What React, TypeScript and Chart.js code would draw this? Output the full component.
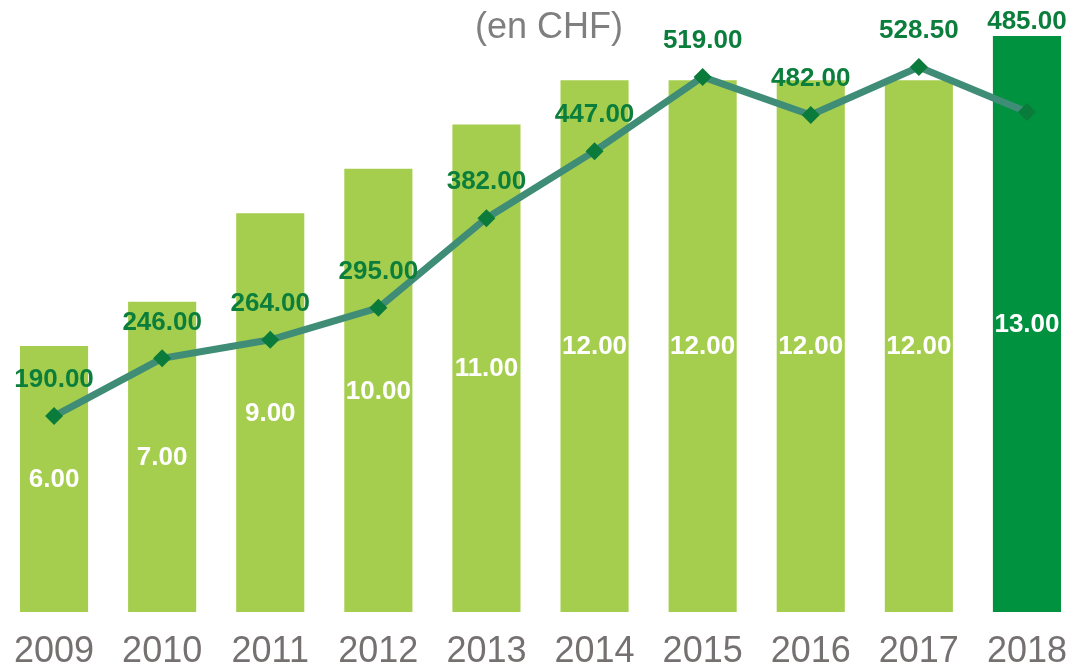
import React, { useEffect, useRef } from "react";
import { Chart, registerables } from "chart.js";

Chart.register(...registerables);

const years = ["2009", "2010", "2011", "2012", "2013", "2014", "2015", "2016", "2017", "2018"];
const barValues = [6, 7, 9, 10, 11, 12, 12, 12, 12, 13];
const lineValues = [190, 246, 264, 295, 382, 447, 519, 482, 528.5, 485];
const subtitle = "(en CHF)";

const BAR_LIGHT = "#a6ce4e";
const BAR_DARK = "#00923f";
const LINE_COLOR = "#3f8d76";
const MARKER_COLOR = "#0a7b3a";
const LABEL_GREEN = "#0b7e3c";

const labelPlugin = {
  id: "valueLabels",
  afterDatasetsDraw(chart: any) {
    const ctx = chart.ctx;
    ctx.save();
    ctx.font = "bold 26px 'Liberation Sans', Arial, sans-serif";
    ctx.textAlign = "center";
    ctx.textBaseline = "middle";
    const barMeta = chart.getDatasetMeta(1);
    const lineMeta = chart.getDatasetMeta(0);
    barMeta.data.forEach((el: any, i: number) => {
      const p = el.getProps(["x", "y", "base"], true);
      ctx.fillStyle = "#ffffff";
      ctx.fillText(barValues[i].toFixed(2), p.x, (p.y + p.base) / 2 + 1);
    });
    lineMeta.data.forEach((el: any, i: number) => {
      const p = el.getProps(["x", "y"], true);
      let y = p.y - 36;
      if (i === lineMeta.data.length - 1) {
        const b = barMeta.data[i].getProps(["y"], true);
        y = b.y - 14;
      }
      ctx.fillStyle = LABEL_GREEN;
      ctx.fillText(lineValues[i].toFixed(2), p.x, y);
    });
    ctx.font = "36px 'Liberation Sans', Arial, sans-serif";
    ctx.fillStyle = "#7f7f7f";
    ctx.fillText(subtitle, 549, 28);
    ctx.restore();
  },
};

export default function App() {
  const ref = useRef<HTMLCanvasElement>(null);
  useEffect(() => {
    if (!ref.current) return;
    const chart = new Chart(ref.current, {
      type: "bar",
      data: {
        labels: years,
        datasets: [
          {
            type: "line",
            data: lineValues,
            yAxisID: "y1",
            borderColor: LINE_COLOR,
            borderWidth: 7,
            pointStyle: "rectRot",
            pointRadius: 9,
            pointBackgroundColor: MARKER_COLOR,
            pointBorderColor: MARKER_COLOR,
            pointBorderWidth: 0,
            tension: 0,
            clip: false,
            order: 0,
          } as any,
          {
            type: "bar",
            data: barValues,
            yAxisID: "y",
            backgroundColor: barValues.map((_, i) => (i === barValues.length - 1 ? BAR_DARK : BAR_LIGHT)),
            barPercentage: 0.63,
            categoryPercentage: 1,
            order: 1,
          },
        ],
      },
      options: {
        animation: false,
        responsive: false,
        maintainAspectRatio: false,
        layout: { autoPadding: false, padding: { top: 0, bottom: 0, left: 0, right: 0 } },
        plugins: { legend: { display: false }, tooltip: { enabled: false }, title: { display: false } },
        scales: {
          x: {
            grid: { display: false, drawTicks: false },
            border: { display: false },
            afterFit: (scale: any) => {
              scale.height = 59;
              scale.paddingLeft = 0;
              scale.paddingRight = 0;
            },
            ticks: {
              color: "#767171",
              font: { size: 36, family: "'Liberation Sans', Arial, sans-serif" },
              padding: 18,
              maxRotation: 0,
            },
          },
          y: { display: false, min: 0, max: 13.81 },
          y1: { display: false, min: 0, max: 593.6, position: "right" },
        },
      },
      plugins: [labelPlugin],
    });
    return () => chart.destroy();
  }, []);
  return (
    <div style={{ position: "fixed", left: 0, top: 0, width: 1081, height: 671, background: "#fff" }}>
      <canvas ref={ref} width={1081} height={671} style={{ width: 1081, height: 671 }} />
    </div>
  );
}
